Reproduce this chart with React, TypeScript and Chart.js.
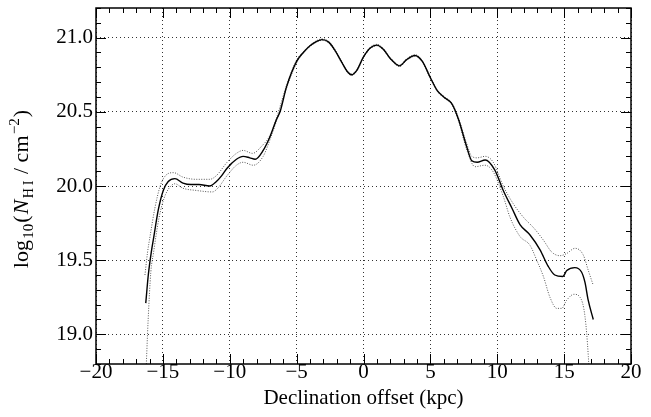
import React, { useEffect, useRef } from "react";
import { Chart, registerables } from "chart.js";

Chart.register(...registerables);

// ---- data ----
const mainX = [-16.28, -16.09, -15.84, -15.71, -15.34, -14.97, -14.6, -14.1, -13.5, -12.9, -12.3, -11.5, -11.0, -10.6, -10.2, -9.5, -9.0, -8.5, -8.1, -7.5, -7.0, -6.5, -6.24, -5.75, -5.0, -4.5, -4.0, -3.5, -3.1, -2.6, -2.1, -1.6, -1.2, -0.9, -0.5, 0.0, 0.5, 1.0, 1.5, 2.0, 2.7, 3.2, 3.85, 4.4, 5.0, 5.5, 6.0, 6.6, 7.1, 7.7, 8.1, 8.5, 9.1, 9.8, 10.45, 11.1, 11.7, 12.45, 13.2, 13.8, 14.3, 14.9, 15.2, 15.8, 16.3, 16.56, 16.8, 17.18];
const mainY = [19.21, 19.40, 19.57, 19.64, 19.84, 19.97, 20.03, 20.05, 20.02, 20.01, 20.01, 20.00, 20.03, 20.07, 20.12, 20.18, 20.20, 20.19, 20.18, 20.24, 20.33, 20.45, 20.50, 20.67, 20.84, 20.90, 20.945, 20.975, 20.987, 20.97, 20.91, 20.83, 20.77, 20.75, 20.78, 20.87, 20.93, 20.95, 20.92, 20.86, 20.81, 20.85, 20.88, 20.84, 20.73, 20.645, 20.60, 20.555, 20.45, 20.27, 20.17, 20.16, 20.175, 20.11, 19.97, 19.85, 19.74, 19.67, 19.57, 19.46, 19.40, 19.39, 19.43, 19.45, 19.42, 19.35, 19.23, 19.10];

const upperX = [-16.34, -16.15, -15.96, -15.6, -15.2, -14.8, -14.2, -13.5, -12.5, -11.5, -11.0, -10.2, -9.5, -9.0, -8.3, -7.6, -7.0, -6.5, -5.75, -5.0, -4.5, -4.0, -3.5, -3.1, -2.6, -2.1, -1.6, -1.2, -0.9, -0.5, 0.0, 0.5, 1.0, 1.5, 2.0, 2.7, 3.2, 3.85, 4.4, 5.0, 5.5, 6.0, 6.6, 7.1, 7.7, 8.1, 8.5, 9.1, 9.7, 10.45, 11.2, 11.95, 12.8, 13.45, 14.07, 14.69, 15.19, 15.81, 16.43, 16.81, 17.18];
const upperY = [19.40, 19.55, 19.66, 19.85, 20.00, 20.07, 20.09, 20.06, 20.045, 20.045, 20.07, 20.16, 20.22, 20.24, 20.22, 20.27, 20.34, 20.46, 20.68, 20.85, 20.905, 20.95, 20.98, 20.992, 20.975, 20.915, 20.835, 20.775, 20.755, 20.785, 20.875, 20.935, 20.955, 20.925, 20.865, 20.815, 20.855, 20.885, 20.845, 20.735, 20.65, 20.605, 20.56, 20.46, 20.29, 20.20, 20.19, 20.20, 20.16, 20.00, 19.88, 19.79, 19.71, 19.635, 19.555, 19.53, 19.545, 19.58, 19.535, 19.43, 19.33];

const lowerX = [-16.28, -16.1, -15.9, -15.7, -15.3, -14.9, -14.5, -14.1, -13.5, -12.5, -11.3, -10.9, -10.2, -9.5, -9.0, -8.24, -7.5, -7.0, -6.5, -5.75, -5.0, -4.5, -4.0, -3.5, -3.1, -2.6, -2.1, -1.6, -1.2, -0.9, -0.5, 0.0, 0.5, 1.0, 1.5, 2.0, 2.7, 3.2, 3.85, 4.4, 5.0, 5.5, 6.0, 6.6, 7.1, 7.7, 8.34, 9.08, 9.7, 10.45, 10.95, 11.7, 12.45, 12.95, 13.45, 13.94, 14.45, 14.82, 15.19, 15.74, 16.19, 16.56, 16.81, 17.0];
const lowerY = [18.70, 19.10, 19.42, 19.55, 19.78, 19.92, 19.99, 20.015, 19.985, 19.97, 19.96, 19.985, 20.07, 20.14, 20.16, 20.14, 20.20, 20.31, 20.44, 20.66, 20.83, 20.895, 20.94, 20.97, 20.982, 20.965, 20.905, 20.825, 20.765, 20.745, 20.775, 20.865, 20.925, 20.945, 20.915, 20.855, 20.805, 20.845, 20.875, 20.835, 20.725, 20.64, 20.595, 20.55, 20.44, 20.25, 20.13, 20.14, 20.095, 19.93, 19.79, 19.66, 19.60, 19.50, 19.39, 19.25, 19.175, 19.175, 19.23, 19.27, 19.25, 19.12, 18.85, 18.50];

const xMajorTicks = [-20, -15, -10, -5, 0, 5, 10, 15, 20];
const yMajorTicks = [19.0, 19.5, 20.0, 20.5, 21.0];
const xMinorStep = 1;
const yMinorStep = 0.1;
const xRange = [-20, 20];
const yRange = [18.8, 21.2];
const xTitle = "Declination offset (kpc)";

const SERIF = "'Liberation Serif', 'Times New Roman', serif";

const toPts = (xs: number[], ys: number[]) => xs.map((x, i) => ({ x, y: ys[i] }));

const decorPlugin = {
  id: "decor",
  afterDraw(chart: any) {
    const { ctx, chartArea: a, scales } = chart;
    const xs = scales.x;
    const ys = scales.y;
    ctx.save();
    ctx.strokeStyle = "#000";
    ctx.lineWidth = 1;
    ctx.setLineDash([]);
    const line = (x1: number, y1: number, x2: number, y2: number) => {
      ctx.beginPath();
      ctx.moveTo(x1, y1);
      ctx.lineTo(x2, y2);
      ctx.stroke();
    };
    // x ticks (inward, top and bottom)
    const nx = Math.round((xRange[1] - xRange[0]) / xMinorStep);
    for (let i = 0; i <= nx; i++) {
      const v = xRange[0] + i * xMinorStep;
      const major = xMajorTicks.some((m) => Math.abs(m - v) < 1e-6);
      const len = major ? 10 : 5;
      const p = Math.round(xs.getPixelForValue(v)) + 0.5;
      line(p, a.bottom, p, a.bottom - len);
      line(p, a.top, p, a.top + len);
    }
    // y ticks (inward, left and right)
    const ny = Math.round((yRange[1] - yRange[0]) / yMinorStep);
    for (let i = 0; i <= ny; i++) {
      const v = yRange[0] + i * yMinorStep;
      const major = yMajorTicks.some((m) => Math.abs(m - v) < 1e-6);
      const len = major ? 10 : 5;
      const p = Math.round(ys.getPixelForValue(v)) + 0.5;
      line(a.left, p, a.left + len, p);
      line(a.right, p, a.right - len, p);
    }
    // frame
    ctx.lineWidth = 1.5;
    ctx.strokeRect(a.left, a.top, a.right - a.left, a.bottom - a.top);

    // y title with sub/superscripts
    const pieces = [
      { t: "log", size: 22, dy: 0, italic: false },
      { t: "10", size: 15, dy: 5, italic: false },
      { t: "(", size: 22, dy: 0, italic: false },
      { t: "N", size: 22, dy: 0, italic: true },
      { t: "H\u2009I", size: 14, dy: 5, italic: false },
      { t: " / cm", size: 22, dy: 0, italic: false },
      { t: "\u22122", size: 15, dy: -9, italic: false },
      { t: ")", size: 22, dy: 0, italic: false },
    ];
    const fontOf = (p: any) => `${p.italic ? "italic " : ""}${p.size}px ${SERIF}`;
    let total = 0;
    const widths = pieces.map((p) => {
      ctx.font = fontOf(p);
      const w = ctx.measureText(p.t).width;
      total += w;
      return w;
    });
    const gap = 1.2;
    total += gap * (pieces.length - 1);
    ctx.translate(28, (a.top + a.bottom) / 2 + 3);
    ctx.rotate(-Math.PI / 2);
    ctx.fillStyle = "#000";
    ctx.textBaseline = "alphabetic";
    ctx.textAlign = "left";
    let x = -total / 2;
    pieces.forEach((p, i) => {
      ctx.font = fontOf(p);
      ctx.fillText(p.t, x, p.dy);
      x += widths[i] + gap;
    });
    ctx.restore();
  },
};

export default function App() {
  const ref = useRef<HTMLCanvasElement | null>(null);
  useEffect(() => {
    document.body.style.margin = "0";
    const canvas = ref.current;
    if (!canvas) return;
    const chart = new Chart(canvas, {
      type: "line",
      data: {
        datasets: [
          {
            data: toPts(mainX, mainY),
            borderColor: "#000",
            borderWidth: 1.4,
            pointRadius: 0,
            cubicInterpolationMode: "monotone",
            fill: false,
          },
          {
            data: toPts(upperX, upperY),
            borderColor: "#555",
            borderWidth: 1,
            borderDash: [1, 1.5],
            pointRadius: 0,
            cubicInterpolationMode: "monotone",
            fill: false,
          },
          {
            data: toPts(lowerX, lowerY),
            borderColor: "#555",
            borderWidth: 1,
            borderDash: [1, 1.5],
            pointRadius: 0,
            cubicInterpolationMode: "monotone",
            fill: false,
          },
        ],
      },
      options: {
        responsive: false,
        animation: false,
        events: [],
        layout: { padding: { top: 8, right: 20, bottom: 0, left: 0 } },
        plugins: {
          legend: { display: false },
          tooltip: { enabled: false },
        },
        scales: {
          x: {
            type: "linear",
            min: xRange[0],
            max: xRange[1],
            afterBuildTicks: (s: any) => {
              s.ticks = xMajorTicks.map((v) => ({ value: v }));
            },
            afterFit: (s: any) => {
              s.height = 53;
              s.paddingLeft = 0;
              s.paddingRight = 0;
            },
            grid: {
              color: "#333",
              lineWidth: 1,
              drawTicks: false,
            },
            border: { display: false, dash: [1, 3] },
            ticks: {
              color: "#000",
              padding: -2,
              maxRotation: 0,
              autoSkip: false,
              font: { family: SERIF, size: 21, lineHeight: 1 },
              callback: (v: any) => (v < 0 ? "\u2212" + Math.abs(v) : String(v)),
            },
            title: {
              display: true,
              text: xTitle,
              color: "#000",
              font: { family: SERIF, size: 21, lineHeight: 1.2 },
              padding: { top: 0, bottom: 6 },
            },
          },
          y: {
            type: "linear",
            min: yRange[0],
            max: yRange[1],
            afterBuildTicks: (s: any) => {
              s.ticks = yMajorTicks.map((v) => ({ value: v }));
            },
            afterFit: (s: any) => {
              s.width = 96;
              s.paddingTop = 0;
              s.paddingBottom = 0;
            },
            grid: {
              color: "#333",
              lineWidth: 1,
              drawTicks: false,
            },
            border: { display: false, dash: [1, 3] },
            ticks: {
              color: "#000",
              padding: 3,
              autoSkip: false,
              font: { family: SERIF, size: 21, lineHeight: 1 },
              callback: (v: any) => Number(v).toFixed(1),
            },
          },
        },
      },
      plugins: [decorPlugin],
    } as any);
    return () => chart.destroy();
  }, []);
  return (
    <div style={{ position: "fixed", left: 0, top: 0, width: 651, height: 417 }}>
      <canvas ref={ref} width={651} height={417} style={{ display: "block" }} />
    </div>
  );
}
